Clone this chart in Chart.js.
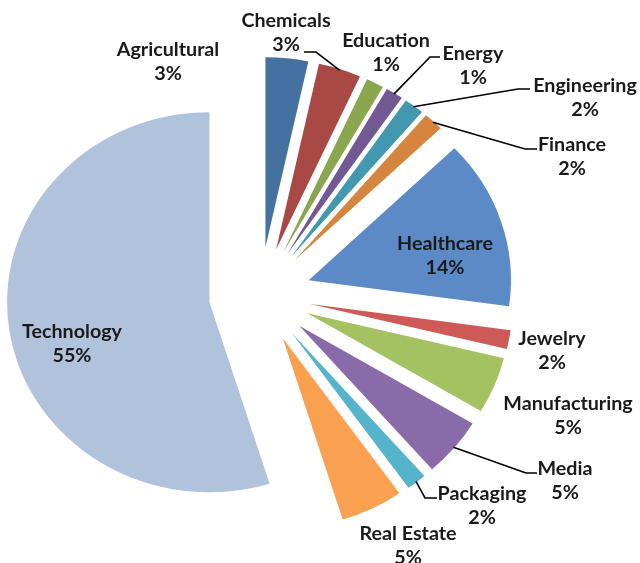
<!DOCTYPE html>
<html>
<head>
<meta charset="utf-8">
<script src="https://cdn.jsdelivr.net/npm/chart.js@4"></script>
<style>
  body { margin: 0; background: #fff; }
</style>
</head>
<body>
<canvas id="pieChart" width="640" height="563"></canvas>
<script>
// sector shares (labels show them rounded)
const sectors = ['Agricultural', 'Chemicals', 'Education', 'Energy', 'Engineering', 'Finance',
  'Healthcare', 'Jewelry', 'Manufacturing', 'Media', 'Packaging', 'Real Estate', 'Technology'];
const shares = [3.4, 3.4, 1.4, 1.4, 1.6, 1.6, 14.4, 1.6, 4.8, 5.0, 1.6, 5.0, 54.8];

const sliceColors = ['#44719f', '#a84946', '#8aa64f', '#735993', '#4298ae', '#d6853e',
  '#5b8ac6', '#cd5a57', '#a4c262', '#8a6baa', '#55b4cc', '#f9a150', '#b1c2dd'];

// layout of the pie
const R = 190;          // radius
const EXPLODE = 48;     // every slice pulled out by this much
const STRETCH = 1.065;  // the original picture is a bit wider than tall

// label text spots (centre x, first baseline) and leader elbows [xText, y, xElbow]
const labelAt = [[168, 56], [286, 27], [386, 47], [473, 60], [585, 92], [572, 151],
  [445, 250], [552, 345], [568, 410], [565, 475], [482, 500], [408, 540], [72, 338]];
const leaders = [null, [304, 52, 316], null, [440, 57, 430], [530, 89, 518], [537, 149, 525],
  null, null, null, [537, 473, 526], [437, 498, 425], null, null];

// pull each slice out along its bisector, and draw the pie slightly wide
const explodePie = {
  id: 'explodePie',
  beforeDatasetsDraw(chart) {
    const area = chart.chartArea;
    const cx = (area.left + area.right) / 2;
    const cy = (area.top + area.bottom) / 2;
    chart.getDatasetMeta(0).data.forEach(a => {
      const mid = (a.startAngle + a.endAngle) / 2;
      a.x = cx + Math.cos(mid) * EXPLODE;
      a.y = cy + Math.sin(mid) * EXPLODE;
    });
    const ctx = chart.ctx;
    ctx.save();
    ctx.translate(cx, 0);
    ctx.scale(STRETCH, 1);
    ctx.translate(-cx, 0);
  },
  afterDatasetsDraw(chart) {
    chart.ctx.restore();
  }
};

const pieLabels = {
  id: 'pieLabels',
  afterDraw(chart) {
    const ctx = chart.ctx;
    const area = chart.chartArea;
    const cx = (area.left + area.right) / 2;
    const arcs = chart.getDatasetMeta(0).data;
    ctx.save();
    ctx.font = 'bold 18.5px Lato';
    ctx.fillStyle = '#1a1a1a';
    ctx.strokeStyle = '#000';
    ctx.lineWidth = 1.6;
    ctx.textAlign = 'center';
    arcs.forEach((a, i) => {
      const [x, y] = labelAt[i];
      ctx.save();
      ctx.translate(x, y);
      ctx.scale(STRETCH, 1);
      ctx.fillText(sectors[i], 0, 0);
      ctx.fillText(Math.round(shares[i]) + '%', 0, 24);
      ctx.restore();
      const lead = leaders[i];
      if (lead) {
        const mid = (a.startAngle + a.endAngle) / 2;
        const ex = cx + STRETCH * (a.x - cx + Math.cos(mid) * (R - 1));
        const ey = a.y + Math.sin(mid) * (R - 1);
        ctx.beginPath();
        ctx.moveTo(lead[0], lead[1]);
        ctx.lineTo(lead[2], lead[1]);
        ctx.lineTo(ex, ey);
        ctx.stroke();
      }
    });
    ctx.restore();
  }
};

new Chart(document.getElementById('pieChart'), {
  type: 'pie',
  data: {
    labels: sectors,
    datasets: [{
      data: shares,
      backgroundColor: sliceColors,
      borderWidth: 0,
      hoverOffset: 0,
      clip: false
    }]
  },
  options: {
    responsive: false,
    devicePixelRatio: 1,
    animation: false,
    radius: R,
    layout: { padding: { left: 0, right: 120, top: 27, bottom: 0 } },
    plugins: {
      legend: { display: false },
      tooltip: { enabled: false }
    }
  },
  plugins: [explodePie, pieLabels]
});
</script>
</body>
</html>
